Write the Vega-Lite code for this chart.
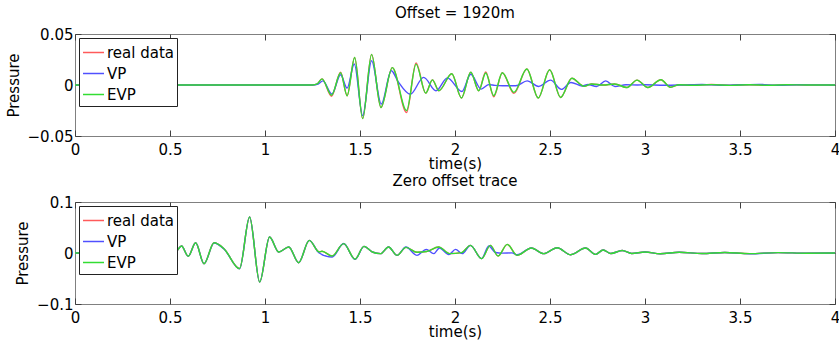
{
  "$schema": "https://vega.github.io/schema/vega-lite/v6.json",
  "padding": {"left": 5, "top": 5, "right": 0, "bottom": 0},
  "resolve": {"scale": {"color": "independent"}, "legend": {"color": "independent"}},
  "config": {
    "font": "DejaVu Sans",
    "view": {"stroke": "#808080", "strokeWidth": 1},
    "axis": {"labelFontSize": 15, "titleFontSize": 15, "titleFontWeight": "normal", "labelColor": "black", "titleColor": "black", "tickColor": "#404040", "tickSize": -6, "domain": false, "grid": false, "labelFlush": false, "labelOverlap": false},
    "axisX": {"labelPadding": 12, "titlePadding": -1},
    "axisY": {"labelPadding": 8, "titlePadding": 6},
    "title": {"fontSize": 15, "fontWeight": "normal", "offset": 6, "color": "black"},
    "concat": {"spacing": 1}
  },
  "datasets": {
    "top": [
      {"t":0,"s":"EVP","p":0},{"t":1.25,"s":"EVP","p":0},{"t":1.275,"s":"EVP","p":0.001},{"t":1.3,"s":"EVP","p":0.006},{"t":1.35,"s":"EVP","p":-0.01},{"t":1.398,"s":"EVP","p":0.012},{"t":1.432,"s":"EVP","p":-0.0105},{"t":1.472,"s":"EVP","p":0.027},{"t":1.514,"s":"EVP","p":-0.033},{"t":1.561,"s":"EVP","p":0.03},{"t":1.61,"s":"EVP","p":-0.022},{"t":1.67,"s":"EVP","p":0.017},{"t":1.745,"s":"EVP","p":-0.025},{"t":1.795,"s":"EVP","p":0.0205},{"t":1.846,"s":"EVP","p":-0.008},{"t":1.881,"s":"EVP","p":0.005},{"t":1.915,"s":"EVP","p":-0.0056},{"t":1.983,"s":"EVP","p":0.011},{"t":2.034,"s":"EVP","p":-0.0127},{"t":2.083,"s":"EVP","p":0.0125},{"t":2.125,"s":"EVP","p":-0.0056},{"t":2.162,"s":"EVP","p":0.0118},{"t":2.204,"s":"EVP","p":-0.0105},{"t":2.249,"s":"EVP","p":0.012},{"t":2.31,"s":"EVP","p":-0.0072},{"t":2.378,"s":"EVP","p":0.0157},{"t":2.438,"s":"EVP","p":-0.0127},{"t":2.498,"s":"EVP","p":0.015},{"t":2.556,"s":"EVP","p":-0.0122},{"t":2.615,"s":"EVP","p":0.0066},{"t":2.679,"s":"EVP","p":-0.0013},{"t":2.72,"s":"EVP","p":0.001},{"t":2.78,"s":"EVP","p":0},{"t":2.84,"s":"EVP","p":0.001},{"t":2.905,"s":"EVP","p":-0.0025},{"t":2.958,"s":"EVP","p":0.0048},{"t":3.015,"s":"EVP","p":-0.0025},{"t":3.084,"s":"EVP","p":0.0052},{"t":3.134,"s":"EVP","p":-0.0022},{"t":3.18,"s":"EVP","p":0.0003},{"t":3.25,"s":"EVP","p":-0.0003},{"t":3.35,"s":"EVP","p":0.0004},{"t":3.45,"s":"EVP","p":-0.0004},{"t":3.55,"s":"EVP","p":0.0003},{"t":3.65,"s":"EVP","p":-0.0003},{"t":3.75,"s":"EVP","p":0.0002},{"t":3.85,"s":"EVP","p":0},{"t":4,"s":"EVP","p":0},

      {"t":0,"s":"real data","p":0},{"t":1.25,"s":"real data","p":0},{"t":1.275,"s":"real data","p":0.001},{"t":1.3,"s":"real data","p":0.006},{"t":1.35,"s":"real data","p":-0.011},{"t":1.398,"s":"real data","p":0.0125},{"t":1.432,"s":"real data","p":-0.0105},{"t":1.472,"s":"real data","p":0.027},{"t":1.514,"s":"real data","p":-0.033},{"t":1.561,"s":"real data","p":0.03},{"t":1.61,"s":"real data","p":-0.022},{"t":1.67,"s":"real data","p":0.017},{"t":1.745,"s":"real data","p":-0.027},{"t":1.795,"s":"real data","p":0.0215},{"t":1.846,"s":"real data","p":-0.008},{"t":1.881,"s":"real data","p":0.005},{"t":1.915,"s":"real data","p":-0.0056},{"t":1.983,"s":"real data","p":0.011},{"t":2.034,"s":"real data","p":-0.0127},{"t":2.083,"s":"real data","p":0.0125},{"t":2.125,"s":"real data","p":-0.0056},{"t":2.162,"s":"real data","p":0.0128},{"t":2.204,"s":"real data","p":-0.0115},{"t":2.249,"s":"real data","p":0.012},{"t":2.31,"s":"real data","p":-0.0082},{"t":2.378,"s":"real data","p":0.0157},{"t":2.438,"s":"real data","p":-0.0127},{"t":2.498,"s":"real data","p":0.015},{"t":2.556,"s":"real data","p":-0.0122},{"t":2.615,"s":"real data","p":0.0066},{"t":2.679,"s":"real data","p":-0.0013},{"t":2.72,"s":"real data","p":0.001},{"t":2.78,"s":"real data","p":0},{"t":2.84,"s":"real data","p":0.001},{"t":2.905,"s":"real data","p":-0.0025},{"t":2.958,"s":"real data","p":0.0048},{"t":3.015,"s":"real data","p":-0.0025},{"t":3.084,"s":"real data","p":0.0052},{"t":3.134,"s":"real data","p":-0.0022},{"t":3.18,"s":"real data","p":0.0003},{"t":3.25,"s":"real data","p":-0.0003},{"t":3.35,"s":"real data","p":0.0005},{"t":3.45,"s":"real data","p":-0.0004},{"t":3.55,"s":"real data","p":0.0003},{"t":3.65,"s":"real data","p":-0.0004},{"t":3.75,"s":"real data","p":0.0002},{"t":3.85,"s":"real data","p":0},{"t":4,"s":"real data","p":0},

      {"t":0,"s":"VP","p":0},{"t":1.25,"s":"VP","p":0},{"t":1.28,"s":"VP","p":0.001},{"t":1.305,"s":"VP","p":0.004},{"t":1.352,"s":"VP","p":-0.0088},{"t":1.398,"s":"VP","p":0.01},{"t":1.432,"s":"VP","p":-0.003},{"t":1.47,"s":"VP","p":0.0206},{"t":1.514,"s":"VP","p":-0.03},{"t":1.561,"s":"VP","p":0.0238},{"t":1.612,"s":"VP","p":-0.0186},{"t":1.665,"s":"VP","p":0.014},{"t":1.7,"s":"VP","p":0.0036},{"t":1.765,"s":"VP","p":-0.009},{"t":1.835,"s":"VP","p":0.0075},{"t":1.9,"s":"VP","p":-0.0056},{"t":1.96,"s":"VP","p":0.007},{"t":2.036,"s":"VP","p":-0.0064},{"t":2.083,"s":"VP","p":0.0105},{"t":2.138,"s":"VP","p":-0.004},{"t":2.178,"s":"VP","p":0.0004},{"t":2.21,"s":"VP","p":-0.0004},{"t":2.25,"s":"VP","p":-0.0008},{"t":2.32,"s":"VP","p":-0.0008},{"t":2.38,"s":"VP","p":0.004},{"t":2.44,"s":"VP","p":-0.0014},{"t":2.503,"s":"VP","p":0.0048},{"t":2.56,"s":"VP","p":-0.0043},{"t":2.61,"s":"VP","p":0.0025},{"t":2.67,"s":"VP","p":-0.001},{"t":2.7,"s":"VP","p":0.0005},{"t":2.745,"s":"VP","p":-0.0015},{"t":2.793,"s":"VP","p":0.004},{"t":2.842,"s":"VP","p":-0.0014},{"t":2.9,"s":"VP","p":0.0003},{"t":2.96,"s":"VP","p":0},{"t":3.0,"s":"VP","p":0.0003},{"t":3.1,"s":"VP","p":-0.0003},{"t":3.2,"s":"VP","p":0},{"t":3.3,"s":"VP","p":0.0005},{"t":3.4,"s":"VP","p":-0.0003},{"t":3.5,"s":"VP","p":0.0002},{"t":3.6,"s":"VP","p":0.0006},{"t":3.7,"s":"VP","p":-0.0003},{"t":3.8,"s":"VP","p":0.0002},{"t":4,"s":"VP","p":0}
    ],
    "bottom": [
      {"t":0,"s":"EVP","p":0},{"t":0.52,"s":"EVP","p":0},{"t":0.535,"s":"EVP","p":0.004},{"t":0.561,"s":"EVP","p":0.0137},{"t":0.596,"s":"EVP","p":-0.0065},{"t":0.635,"s":"EVP","p":0.02},{"t":0.679,"s":"EVP","p":-0.021},{"t":0.732,"s":"EVP","p":0.02},{"t":0.784,"s":"EVP","p":0.0085},{"t":0.866,"s":"EVP","p":-0.0307},{"t":0.919,"s":"EVP","p":0.0706},{"t":0.972,"s":"EVP","p":-0.0569},{"t":1.024,"s":"EVP","p":0.0314},{"t":1.072,"s":"EVP","p":0.002},{"t":1.125,"s":"EVP","p":0.0118},{"t":1.177,"s":"EVP","p":-0.019},{"t":1.233,"s":"EVP","p":0.0248},{"t":1.285,"s":"EVP","p":0.002},{"t":1.3,"s":"EVP","p":0.0035},{"t":1.353,"s":"EVP","p":-0.006},{"t":1.414,"s":"EVP","p":0.0183},{"t":1.474,"s":"EVP","p":-0.012},{"t":1.521,"s":"EVP","p":0.013},{"t":1.565,"s":"EVP","p":0.002},{"t":1.608,"s":"EVP","p":-0.0013},{"t":1.65,"s":"EVP","p":0.0118},{"t":1.695,"s":"EVP","p":-0.0046},{"t":1.742,"s":"EVP","p":0.011},{"t":1.8,"s":"EVP","p":0.0015},{"t":1.85,"s":"EVP","p":0.003},{"t":1.914,"s":"EVP","p":0.0118},{"t":1.972,"s":"EVP","p":-0.0013},{"t":2.035,"s":"EVP","p":0.0008},{"t":2.081,"s":"EVP","p":0.015},{"t":2.14,"s":"EVP","p":-0.011},{"t":2.186,"s":"EVP","p":0.015},{"t":2.227,"s":"EVP","p":-0.006},{"t":2.275,"s":"EVP","p":0.017},{"t":2.327,"s":"EVP","p":-0.0046},{"t":2.402,"s":"EVP","p":0.0098},{"t":2.467,"s":"EVP","p":-0.0013},{"t":2.538,"s":"EVP","p":0.0104},{"t":2.608,"s":"EVP","p":-0.0033},{"t":2.687,"s":"EVP","p":0.0098},{"t":2.74,"s":"EVP","p":-0.0026},{"t":2.78,"s":"EVP","p":0.006},{"t":2.82,"s":"EVP","p":-0.001},{"t":2.88,"s":"EVP","p":0.005},{"t":2.93,"s":"EVP","p":-0.001},{"t":3.0,"s":"EVP","p":0.002},{"t":3.08,"s":"EVP","p":-0.0015},{"t":3.18,"s":"EVP","p":0.0015},{"t":3.3,"s":"EVP","p":-0.001},{"t":3.42,"s":"EVP","p":0.001},{"t":3.55,"s":"EVP","p":-0.0012},{"t":3.7,"s":"EVP","p":0.0008},{"t":3.85,"s":"EVP","p":-0.0005},{"t":4,"s":"EVP","p":0},

      {"t":0,"s":"real data","p":0},{"t":0.52,"s":"real data","p":0},{"t":0.535,"s":"real data","p":0.004},{"t":0.561,"s":"real data","p":0.0137},{"t":0.596,"s":"real data","p":-0.0065},{"t":0.635,"s":"real data","p":0.02},{"t":0.679,"s":"real data","p":-0.021},{"t":0.732,"s":"real data","p":0.02},{"t":0.784,"s":"real data","p":0.0085},{"t":0.866,"s":"real data","p":-0.0307},{"t":0.919,"s":"real data","p":0.0706},{"t":0.972,"s":"real data","p":-0.0569},{"t":1.024,"s":"real data","p":0.0314},{"t":1.072,"s":"real data","p":0.002},{"t":1.125,"s":"real data","p":0.0118},{"t":1.177,"s":"real data","p":-0.019},{"t":1.233,"s":"real data","p":0.0248},{"t":1.285,"s":"real data","p":0.002},{"t":1.3,"s":"real data","p":0.0035},{"t":1.353,"s":"real data","p":-0.006},{"t":1.414,"s":"real data","p":0.0183},{"t":1.474,"s":"real data","p":-0.012},{"t":1.521,"s":"real data","p":0.013},{"t":1.565,"s":"real data","p":0.002},{"t":1.608,"s":"real data","p":-0.0013},{"t":1.65,"s":"real data","p":0.0118},{"t":1.695,"s":"real data","p":-0.0046},{"t":1.742,"s":"real data","p":0.011},{"t":1.8,"s":"real data","p":0.0015},{"t":1.85,"s":"real data","p":0.003},{"t":1.914,"s":"real data","p":0.0118},{"t":1.972,"s":"real data","p":-0.0013},{"t":2.035,"s":"real data","p":0.0008},{"t":2.081,"s":"real data","p":0.015},{"t":2.14,"s":"real data","p":-0.011},{"t":2.186,"s":"real data","p":0.015},{"t":2.227,"s":"real data","p":-0.006},{"t":2.275,"s":"real data","p":0.017},{"t":2.327,"s":"real data","p":-0.0046},{"t":2.402,"s":"real data","p":0.0098},{"t":2.467,"s":"real data","p":-0.0013},{"t":2.538,"s":"real data","p":0.0104},{"t":2.608,"s":"real data","p":-0.0033},{"t":2.687,"s":"real data","p":0.0098},{"t":2.74,"s":"real data","p":-0.0026},{"t":2.78,"s":"real data","p":0.006},{"t":2.82,"s":"real data","p":-0.001},{"t":2.88,"s":"real data","p":0.005},{"t":2.93,"s":"real data","p":-0.001},{"t":3.0,"s":"real data","p":0.002},{"t":3.08,"s":"real data","p":-0.0015},{"t":3.18,"s":"real data","p":0.0015},{"t":3.3,"s":"real data","p":-0.001},{"t":3.42,"s":"real data","p":0.001},{"t":3.55,"s":"real data","p":-0.0012},{"t":3.7,"s":"real data","p":0.0008},{"t":3.85,"s":"real data","p":-0.0005},{"t":4,"s":"real data","p":0},

      {"t":0,"s":"VP","p":0},{"t":0.52,"s":"VP","p":0},{"t":0.535,"s":"VP","p":0.004},{"t":0.561,"s":"VP","p":0.0137},{"t":0.596,"s":"VP","p":-0.0065},{"t":0.635,"s":"VP","p":0.02},{"t":0.679,"s":"VP","p":-0.021},{"t":0.732,"s":"VP","p":0.0195},{"t":0.784,"s":"VP","p":0.008},{"t":0.866,"s":"VP","p":-0.031},{"t":0.919,"s":"VP","p":0.0706},{"t":0.972,"s":"VP","p":-0.0569},{"t":1.024,"s":"VP","p":0.0314},{"t":1.072,"s":"VP","p":0.002},{"t":1.125,"s":"VP","p":0.0118},{"t":1.177,"s":"VP","p":-0.019},{"t":1.233,"s":"VP","p":0.0248},{"t":1.285,"s":"VP","p":0},{"t":1.353,"s":"VP","p":-0.008},{"t":1.414,"s":"VP","p":0.0185},{"t":1.474,"s":"VP","p":-0.0125},{"t":1.521,"s":"VP","p":0.013},{"t":1.565,"s":"VP","p":0.002},{"t":1.608,"s":"VP","p":-0.0013},{"t":1.65,"s":"VP","p":0.0118},{"t":1.695,"s":"VP","p":-0.0046},{"t":1.742,"s":"VP","p":0.0118},{"t":1.8,"s":"VP","p":-0.0046},{"t":1.849,"s":"VP","p":0.0072},{"t":1.888,"s":"VP","p":-0.0013},{"t":1.918,"s":"VP","p":0.0098},{"t":1.967,"s":"VP","p":-0.003},{"t":2.003,"s":"VP","p":0.0072},{"t":2.038,"s":"VP","p":-0.0013},{"t":2.081,"s":"VP","p":0.015},{"t":2.14,"s":"VP","p":-0.011},{"t":2.178,"s":"VP","p":0.0137},{"t":2.213,"s":"VP","p":0.001},{"t":2.25,"s":"VP","p":-0.0003},{"t":2.3,"s":"VP","p":0.0003},{"t":2.327,"s":"VP","p":-0.0035},{"t":2.402,"s":"VP","p":0.0098},{"t":2.467,"s":"VP","p":-0.0013},{"t":2.538,"s":"VP","p":0.0104},{"t":2.608,"s":"VP","p":-0.0033},{"t":2.687,"s":"VP","p":0.0098},{"t":2.74,"s":"VP","p":-0.0026},{"t":2.78,"s":"VP","p":0.006},{"t":2.82,"s":"VP","p":-0.001},{"t":2.88,"s":"VP","p":0.005},{"t":2.93,"s":"VP","p":-0.001},{"t":3.0,"s":"VP","p":0.002},{"t":3.08,"s":"VP","p":-0.0015},{"t":3.18,"s":"VP","p":0.0015},{"t":3.3,"s":"VP","p":-0.001},{"t":3.42,"s":"VP","p":0.001},{"t":3.55,"s":"VP","p":-0.0015},{"t":3.7,"s":"VP","p":0.0008},{"t":3.85,"s":"VP","p":-0.0005},{"t":4,"s":"VP","p":0}
    ]
  },
  "vconcat": [
    {
      "width": 760, "height": 102,
      "data": {"name": "top"},
      "title": {"text": "Offset = 1920m"},
      "layer": [
        {"transform": [{"filter": "datum.s === 'real data'"}],
         "mark": {"type": "line", "interpolate": "monotone", "strokeWidth": 1.4},
         "encoding": {
           "x": {"field": "t", "type": "quantitative", "scale": {"domain": [0, 4], "nice": false}, "axis": {"orient": "bottom", "values": [0, 0.5, 1, 1.5, 2, 2.5, 3, 3.5, 4], "format": "~g", "title": "time(s)"}},
           "y": {"field": "p", "type": "quantitative", "scale": {"domain": [-0.05, 0.05], "nice": false, "zero": false}, "axis": {"orient": "left", "values": [-0.05, 0, 0.05], "format": "~g", "title": "Pressure"}},
           "color": {"field": "s", "type": "nominal", "scale": {"domain": ["real data", "VP", "EVP"], "range": ["#ff5a5a", "#5050ff", "#33dd33"]},
             "legend": {"title": null, "orient": "top-left", "offset": 4, "padding": 3, "strokeColor": "#222222", "fillColor": "white", "symbolType": "stroke", "symbolSize": 441, "symbolStrokeWidth": 1.5, "labelFontSize": 15, "labelOffset": 2, "rowPadding": 1, "labelColor": "black"}}
         }},
        {"transform": [{"filter": "datum.s === 'VP'"}],
         "mark": {"type": "line", "interpolate": "monotone", "strokeWidth": 1.4},
         "encoding": {
           "x": {"field": "t", "type": "quantitative", "axis": null},
           "y": {"field": "p", "type": "quantitative", "axis": null},
           "color": {"field": "s", "type": "nominal", "legend": null}
         }},
        {"transform": [{"filter": "datum.s === 'EVP'"}],
         "mark": {"type": "line", "interpolate": "monotone", "strokeWidth": 1.4},
         "encoding": {
           "x": {"field": "t", "type": "quantitative", "axis": null},
           "y": {"field": "p", "type": "quantitative", "axis": null},
           "color": {"field": "s", "type": "nominal", "legend": null}
         }},
        {"transform": [{"filter": "datum.s === 'EVP'"}],
         "mark": {"type": "line", "opacity": 0},
         "encoding": {
           "x": {"field": "t", "type": "quantitative", "axis": {"orient": "top", "values": [0, 0.5, 1, 1.5, 2, 2.5, 3, 3.5, 4], "labels": false, "title": null}},
           "y": {"field": "p", "type": "quantitative", "axis": {"orient": "right", "values": [-0.05, 0, 0.05], "labels": false, "title": null}}
         }}
      ]
    },
    {
      "width": 760, "height": 102,
      "data": {"name": "bottom"},
      "title": {"text": "Zero offset trace"},
      "layer": [
        {"transform": [{"filter": "datum.s === 'real data'"}],
         "mark": {"type": "line", "interpolate": "monotone", "strokeWidth": 1.4},
         "encoding": {
           "x": {"field": "t", "type": "quantitative", "scale": {"domain": [0, 4], "nice": false}, "axis": {"orient": "bottom", "values": [0, 0.5, 1, 1.5, 2, 2.5, 3, 3.5, 4], "format": "~g", "title": "time(s)"}},
           "y": {"field": "p", "type": "quantitative", "scale": {"domain": [-0.1, 0.1], "nice": false, "zero": false}, "axis": {"orient": "left", "values": [-0.1, 0, 0.1], "format": "~g", "title": "Pressure"}},
           "color": {"field": "s", "type": "nominal", "scale": {"domain": ["real data", "VP", "EVP"], "range": ["#ff5a5a", "#5050ff", "#33dd33"]},
             "legend": {"title": null, "orient": "top-left", "offset": 4, "padding": 3, "strokeColor": "#222222", "fillColor": "white", "symbolType": "stroke", "symbolSize": 441, "symbolStrokeWidth": 1.5, "labelFontSize": 15, "labelOffset": 2, "rowPadding": 1, "labelColor": "black"}}
         }},
        {"transform": [{"filter": "datum.s === 'VP'"}],
         "mark": {"type": "line", "interpolate": "monotone", "strokeWidth": 1.4},
         "encoding": {
           "x": {"field": "t", "type": "quantitative", "axis": null},
           "y": {"field": "p", "type": "quantitative", "axis": null},
           "color": {"field": "s", "type": "nominal", "legend": null}
         }},
        {"transform": [{"filter": "datum.s === 'EVP'"}],
         "mark": {"type": "line", "interpolate": "monotone", "strokeWidth": 1.4},
         "encoding": {
           "x": {"field": "t", "type": "quantitative", "axis": null},
           "y": {"field": "p", "type": "quantitative", "axis": null},
           "color": {"field": "s", "type": "nominal", "legend": null}
         }},
        {"transform": [{"filter": "datum.s === 'EVP'"}],
         "mark": {"type": "line", "opacity": 0},
         "encoding": {
           "x": {"field": "t", "type": "quantitative", "axis": {"orient": "top", "values": [0, 0.5, 1, 1.5, 2, 2.5, 3, 3.5, 4], "labels": false, "title": null}},
           "y": {"field": "p", "type": "quantitative", "axis": {"orient": "right", "values": [-0.1, 0, 0.1], "labels": false, "title": null}}
         }}
      ]
    }
  ]
}
